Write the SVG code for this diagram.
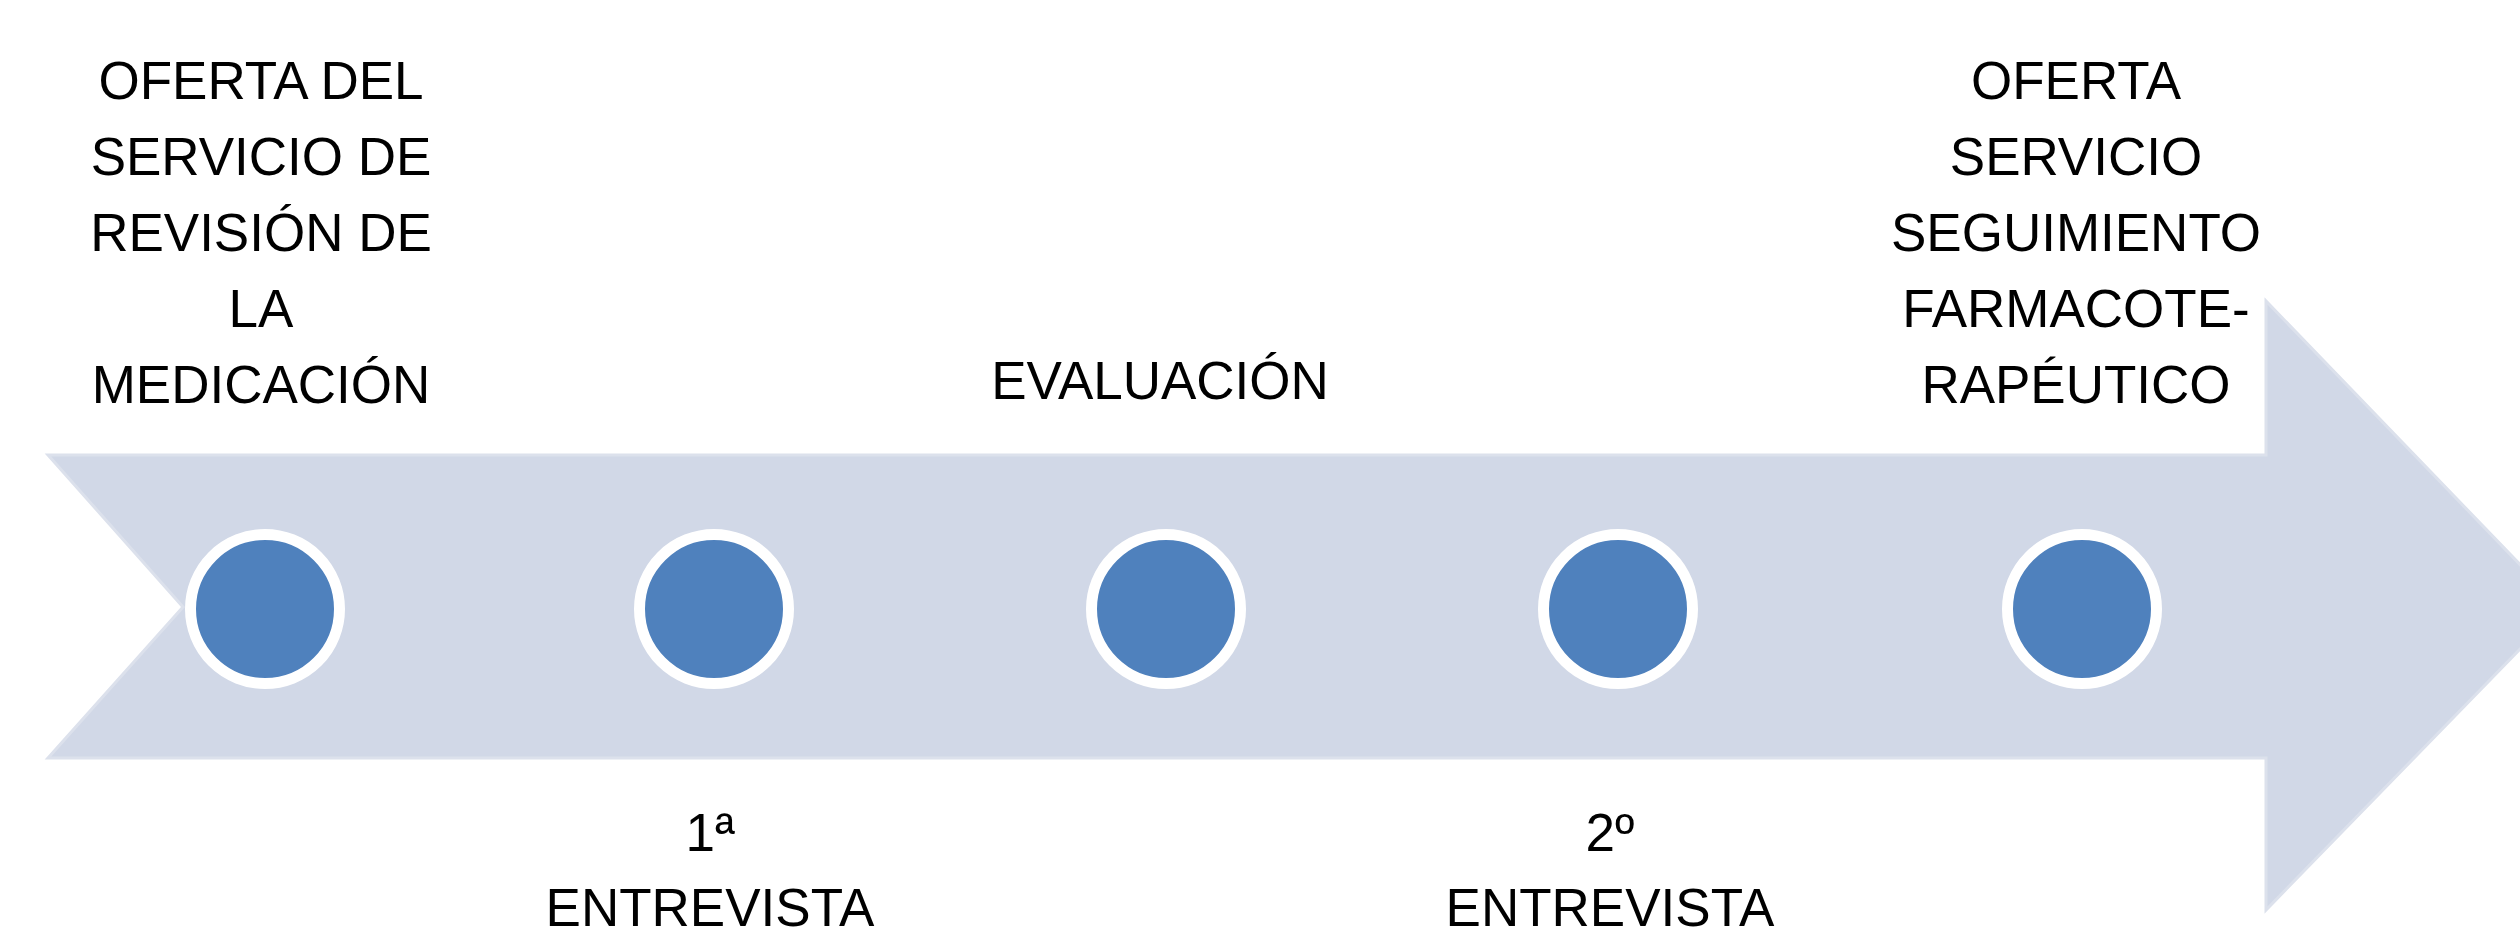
<svg xmlns="http://www.w3.org/2000/svg" width="2520" height="935" viewBox="0 0 2520 935">
<style>
.lbl{font-family:"Liberation Sans",Arial,sans-serif;font-size:53px;fill:#000;text-anchor:middle}
.dot{fill:#4F81BD;stroke:#FFFFFF;stroke-width:11}
</style>
<rect width="2520" height="935" fill="#FFFFFF"/>
<g id="arrow">
<path d="M48,455 L2266,455 L2266,301 L2561,607 L2266,910 L2266,758 L48,758 L183,607 Z" fill="#D1D8E7" stroke="#DCE1EC" stroke-width="3"/>
</g>
<g id="connectors"></g>
<g id="node1">
<circle class="dot" cx="265" cy="609" r="74.5"/>
<text class="lbl" x="261" y="99">OFERTA DEL</text>
<text class="lbl" x="261" y="175">SERVICIO DE</text>
<text class="lbl" x="261" y="251">REVISIÓN DE</text>
<text class="lbl" x="261" y="327">LA</text>
<text class="lbl" x="261" y="403">MEDICACIÓN</text>
</g>
<g id="node2">
<circle class="dot" cx="714" cy="609" r="74.5"/>
<text class="lbl" x="710" y="851">1ª</text>
<text class="lbl" x="710" y="926">ENTREVISTA</text>
</g>
<g id="node3">
<circle class="dot" cx="1166" cy="609" r="74.5"/>
<text class="lbl" x="1160" y="399">EVALUACIÓN</text>
</g>
<g id="node4">
<circle class="dot" cx="1618" cy="609" r="74.5"/>
<text class="lbl" x="1610" y="851">2º</text>
<text class="lbl" x="1610" y="926">ENTREVISTA</text>
</g>
<g id="node5">
<circle class="dot" cx="2082" cy="609" r="74.5"/>
<text class="lbl" x="2076" y="99">OFERTA</text>
<text class="lbl" x="2076" y="175">SERVICIO</text>
<text class="lbl" x="2076" y="251">SEGUIMIENTO</text>
<text class="lbl" x="2076" y="327">FARMACOTE-</text>
<text class="lbl" x="2076" y="403">RAPÉUTICO</text>
</g>
</svg>
